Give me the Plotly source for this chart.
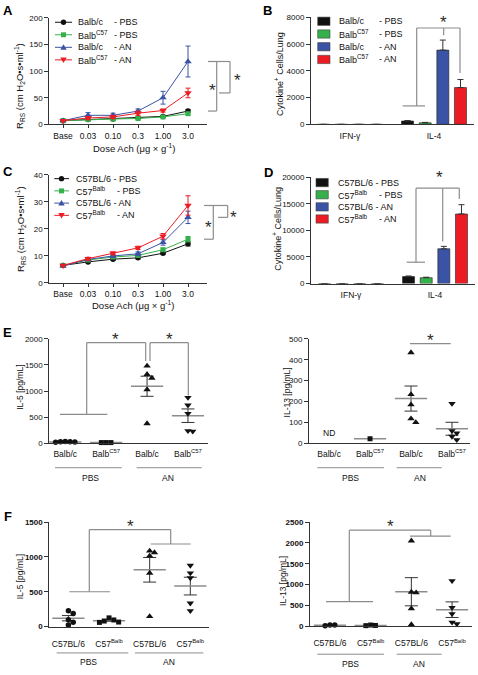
import numpy as np
import plotly.graph_objects as go

W, H = 478, 675
FONT = "Liberation Sans, Arial, Helvetica, sans-serif"
BLACK = "#111111"
GREEN = "#35b04a"
BLUE = "#3b53a4"
RED = "#ec1c24"
GRAY = "#8c8c8c"
AXC = "#333333"

# ---------------- data ----------------
doses = ["Base", "0.03", "0.10", "0.3", "1.00", "3.0"]

A_balbc_pbs = [7, 9, 10, 12, 15, 25]
A_balbc_pbs_err = [1, 1, 1, 1, 1, 3]
A_balbc57_pbs = [7, 9, 10, 11, 14, 20]
A_balbc57_pbs_err = [1, 1, 1, 1, 1, 2]
A_balbc_an = [7, 17, 17, 25, 50, 118]
A_balbc_an_err = [1, 5, 4, 4, 12, 29]
A_balbc57_an = [7, 12, 14, 21, 26, 59]
A_balbc57_an_err = [1, 3, 3, 4, 3, 9]

C_b6_pbs = [6.5, 7.8, 8.8, 9.3, 11.0, 14.5]
C_b6_pbs_err = [0.3, 0.3, 0.4, 0.4, 0.5, 0.8]
C_c57balb_pbs = [6.5, 8.5, 9.6, 10.2, 12.3, 16.2]
C_c57balb_pbs_err = [0.3, 0.4, 0.5, 0.5, 0.6, 1.0]
C_b6_an = [6.3, 8.7, 10.0, 10.8, 15.0, 24.3]
C_b6_an_err = [0.3, 0.5, 0.6, 0.7, 1.0, 2.3]
C_c57balb_an = [6.5, 9.0, 11.0, 13.0, 17.3, 28.7]
C_c57balb_an_err = [0.3, 0.5, 0.5, 0.6, 1.0, 3.6]

cytokines = ["IFN-γ", "IL-4"]
B_balbc_pbs = [0, 250]
B_balbc_pbs_err = [0, 40]
B_balbc57_pbs = [0, 120]
B_balbc57_pbs_err = [0, 30]
B_balbc_an = [0, 5550]
B_balbc_an_err = [0, 750]
B_balbc57_an = [0, 2750]
B_balbc57_an_err = [0, 600]

D_b6_pbs = [0, 1300]
D_b6_pbs_err = [0, 120]
D_c57balb_pbs = [0, 1100]
D_c57balb_pbs_err = [0, 90]
D_b6_an = [0, 6550]
D_b6_an_err = [0, 450]
D_c57balb_an = [0, 13100]
D_c57balb_an_err = [0, 1750]

E_groups = ["Balb/c", "Balb<sup>C57</sup>", "Balb/c", "Balb<sup>C57</sup>"]
E5_balbc_pbs = [30, 25, 35, 20, 30]
E5_balbc57_pbs = [15, 15, 15]
E5_balbc_an = [1480, 1320, 1250, 1030, 380]
E5_balbc57_an = [875, 730, 570, 230, 240]

E13_balbc_pbs = []  # ND
E13_balbc57_pbs = [22]
E13_balbc_an = [434, 234, 185, 118, 100]
E13_balbc57_an = [190, 60, 49, 33, 17]

F_groups = ["C57BL/6", "C57<sup>Balb</sup>", "C57BL/6", "C57<sup>Balb</sup>"]
F5_b6_pbs = [226, 189, 99, 61, 24]
F5_c57balb_pbs = [125, 95, 80, 65, 60]
F5_b6_an = [1085, 1061, 1014, 768, 146]
F5_c57balb_an = [877, 768, 698, 335, 226]

F13_b6_pbs = [30, 15, 28]
F13_c57balb_pbs = [15, 20, 30]
F13_b6_an = [2050, 820, 805, 426, 40]
F13_c57balb_an = [1090, 450, 300, 57, 95]


# ---------------- geometry helpers ----------------
def px(x):
    return x / W


def py(y):
    return 1 - y / H


AX = {
    1: dict(x=(49.3, 207.0), xr=(-0.55, 5.76), y=(122.0, 14.0), yr=(0, 200), yt=[0, 50, 100, 150, 200]),
    2: dict(x=(311.0, 474.0), xr=(-0.464, 1.476), y=(122.0, 13.5), yr=(0, 8000), yt=[0, 2000, 4000, 6000, 8000]),
    3: dict(x=(49.3, 207.0), xr=(-0.55, 5.76), y=(282.7, 173.3), yr=(0, 40), yt=[0, 10, 20, 30, 40]),
    4: dict(x=(311.0, 475.0), xr=(-0.476, 1.476), y=(283.3, 175.7), yr=(0, 20000), yt=[0, 5000, 10000, 15000, 20000]),
    5: dict(x=(49.3, 208.0), xr=(-0.39, 3.49), y=(445.3, 339.3), yr=(0, 2000), yt=[0, 500, 1000, 1500, 2000]),
    6: dict(x=(309.0, 470.0), xr=(-0.49, 3.44), y=(445.3, 339.3), yr=(0, 500), yt=[0, 100, 200, 300, 400, 500]),
    7: dict(x=(49.3, 209.0), xr=(-0.47, 3.46), y=(631.0, 525.0), yr=(0, 1500), yt=[0, 500, 1000, 1500]),
    8: dict(x=(310.0, 472.0), xr=(-0.49, 3.49), y=(630.7, 525.0), yr=(0, 2500), yt=[0, 500, 1000, 1500, 2000, 2500]),
}


def ypix(k, v):
    a = AX[k]
    return a["y"][0] + (v - a["yr"][0]) / (a["yr"][1] - a["yr"][0]) * (a["y"][1] - a["y"][0])


def ypp(k):
    a = AX[k]
    return (a["y"][0] - a["y"][1]) / (a["yr"][1] - a["yr"][0])


def xpp(k):
    a = AX[k]
    return (a["x"][1] - a["x"][0]) / (a["xr"][1] - a["xr"][0])


def xy(k):
    return ("x" if k == 1 else f"x{k}"), ("y" if k == 1 else f"y{k}")


shapes = []
annotations = []


def line(x0, y0, x1, y1, color=GRAY, width=1.2):
    shapes.append(dict(type="line", xref="paper", yref="paper", x0=px(x0), y0=py(y0), x1=px(x1), y1=py(y1),
                       line=dict(color=color, width=width)))


def text(x, y, s, size=8.5, angle=0, bold=False, xanchor="center", yanchor="middle", color="#111111"):
    annotations.append(dict(x=px(x), y=py(y), xref="paper", yref="paper", text=s, showarrow=False,
                            font=dict(family=FONT, size=size, color=color, weight="bold" if bold else "normal"),
                            textangle=angle, xanchor=xanchor, yanchor=yanchor))


def star(x, y):
    text(x, y + 4.5, "*", size=17, color="#2a2a2a")


def key_marker(cx, cy, symbol, color):
    if symbol == "circle":
        r = 2.7
        shapes.append(dict(type="circle", xref="paper", yref="paper", x0=px(cx - r), x1=px(cx + r),
                           y0=py(cy + r), y1=py(cy - r), fillcolor=color, line=dict(width=0)))
    elif symbol == "square":
        r = 2.5
        shapes.append(dict(type="rect", xref="paper", yref="paper", x0=px(cx - r), x1=px(cx + r),
                           y0=py(cy + r), y1=py(cy - r), fillcolor=color, line=dict(width=0)))
    elif symbol == "triangle-up":
        p = f"M{px(cx-3.2)},{py(cy+2.5)} L{px(cx+3.2)},{py(cy+2.5)} L{px(cx)},{py(cy-3.1)} Z"
        shapes.append(dict(type="path", xref="paper", yref="paper", path=p, fillcolor=color, line=dict(width=0)))
    else:
        p = f"M{px(cx-3.2)},{py(cy-2.5)} L{px(cx+3.2)},{py(cy-2.5)} L{px(cx)},{py(cy+3.1)} Z"
        shapes.append(dict(type="path", xref="paper", yref="paper", path=p, fillcolor=color, line=dict(width=0)))


fig = go.Figure()


# ---------------- panels A and C: dose response ----------------
def add_line(k, vals, errs, color, symbol, size):
    xa, ya = xy(k)
    fig.add_trace(go.Scatter(
        x=list(range(len(doses))), y=vals, xaxis=xa, yaxis=ya, mode="lines+markers",
        line=dict(color=color, width=1), marker=dict(symbol=symbol, size=size, color=color),
        error_y=dict(type="data", array=errs, color=color, thickness=1, width=2.5),
        cliponaxis=False, showlegend=False))


add_line(1, A_balbc_pbs, A_balbc_pbs_err, BLACK, "circle", 5.5)
add_line(1, A_balbc57_pbs, A_balbc57_pbs_err, GREEN, "square", 5)
add_line(1, A_balbc_an, A_balbc_an_err, BLUE, "triangle-up", 6.5)
add_line(1, A_balbc57_an, A_balbc57_an_err, RED, "triangle-down", 6.5)

add_line(3, C_b6_pbs, C_b6_pbs_err, BLACK, "circle", 5.5)
add_line(3, C_c57balb_pbs, C_c57balb_pbs_err, GREEN, "square", 5)
add_line(3, C_b6_an, C_b6_an_err, BLUE, "triangle-up", 6.5)
add_line(3, C_c57balb_an, C_c57balb_an_err, RED, "triangle-down", 6.5)


# ---------------- panels B and D: bars ----------------
def add_bar(k, vals, errs, color):
    xa, ya = xy(k)
    fig.add_trace(go.Bar(
        x=list(range(len(cytokines))), y=vals, xaxis=xa, yaxis=ya,
        marker=dict(color=color, line=dict(color="#222222", width=0.6)),
        error_y=dict(type="data", array=errs, arrayminus=[0] * len(errs), symmetric=False,
                     color="#333333", thickness=1, width=3),
        showlegend=False))


add_bar(2, B_balbc_pbs, B_balbc_pbs_err, BLACK)
add_bar(2, B_balbc57_pbs, B_balbc57_pbs_err, GREEN)
add_bar(2, B_balbc_an, B_balbc_an_err, BLUE)
add_bar(2, B_balbc57_an, B_balbc57_an_err, RED)

add_bar(4, D_b6_pbs, D_b6_pbs_err, BLACK)
add_bar(4, D_c57balb_pbs, D_c57balb_pbs_err, GREEN)
add_bar(4, D_b6_an, D_b6_an_err, BLUE)
add_bar(4, D_c57balb_an, D_c57balb_an_err, RED)


# ---------------- panels E and F: dot plots ----------------
def swarm(vals, k, d=4.8):
    yp, xp = ypp(k), xpp(k)
    offs = [0.0] * len(vals)
    placed = []
    for i in sorted(range(len(vals)), key=lambda j: -vals[j]):
        yv = vals[i] * yp
        kk = 0
        while True:
            m = (kk + 1) // 2
            cand = 0.0 if kk == 0 else (m * d / 2 if kk % 2 == 1 else -m * d / 2)
            if all((cand - a) ** 2 + (yv - b) ** 2 >= (d * 0.98) ** 2 for a, b in placed):
                break
            kk += 1
        placed.append((cand, yv))
        offs[i] = cand / xp
    return offs


def add_dots(k, cat, vals, symbol, size):
    if len(vals) == 0:
        return
    xa, ya = xy(k)
    arr = np.array(vals, dtype=float)
    m = arr.mean()
    s = arr.std(ddof=1) / np.sqrt(len(arr)) if len(arr) > 1 else 0.0
    fig.add_trace(go.Scatter(
        x=[cat], y=[m], xaxis=xa, yaxis=ya, mode="markers",
        marker=dict(symbol="line-ew", size=23, color=GRAY, line=dict(color=GRAY, width=1.5)),
        error_y=dict(type="data", array=[s], color="#333333", thickness=1, width=6.5, visible=len(arr) > 1),
        cliponaxis=False, showlegend=False))
    offs = swarm(vals, k)
    fig.add_trace(go.Scatter(
        x=[cat + o for o in offs], y=vals, xaxis=xa, yaxis=ya, mode="markers",
        marker=dict(symbol=symbol, size=size, color="#111111"), cliponaxis=False, showlegend=False))


add_dots(5, 0, E5_balbc_pbs, "circle", 5.5)
add_dots(5, 1, E5_balbc57_pbs, "square", 5)
add_dots(5, 2, E5_balbc_an, "triangle-up", 6.5)
add_dots(5, 3, E5_balbc57_an, "triangle-down", 6.5)

add_dots(6, 0, E13_balbc_pbs, "circle", 5.5)
add_dots(6, 1, E13_balbc57_pbs, "square", 5)
add_dots(6, 2, E13_balbc_an, "triangle-up", 6.5)
add_dots(6, 3, E13_balbc57_an, "triangle-down", 6.5)

add_dots(7, 0, F5_b6_pbs, "circle", 5.5)
add_dots(7, 1, F5_c57balb_pbs, "square", 5)
add_dots(7, 2, F5_b6_an, "triangle-up", 6.5)
add_dots(7, 3, F5_c57balb_an, "triangle-down", 6.5)

add_dots(8, 0, F13_b6_pbs, "circle", 5.5)
add_dots(8, 1, F13_c57balb_pbs, "square", 5)
add_dots(8, 2, F13_b6_an, "triangle-up", 6.5)
add_dots(8, 3, F13_c57balb_an, "triangle-down", 6.5)

# ---------------- axes ----------------
layout = dict(width=W, height=H, margin=dict(l=0, r=0, t=0, b=0), paper_bgcolor="white",
              plot_bgcolor="white", showlegend=False, barmode="group", bargap=0.16, bargroupgap=0.32)

CLEAR = "rgba(0,0,0,0)"
xticks = {
    1: (list(range(6)), doses, AXC, 3),
    3: (list(range(6)), doses, AXC, 3),
    2: ([0, 1], cytokines, CLEAR, 3),
    4: ([0, 1], cytokines, CLEAR, 3),
    5: ([0, 1, 2, 3], E_groups, CLEAR, 2),
    6: ([0, 1, 2, 3], E_groups, CLEAR, 2),
    7: ([0, 1, 2, 3], F_groups, CLEAR, 9),
    8: ([0, 1, 2, 3], F_groups, CLEAR, 9),
}

for k, a in AX.items():
    xn = "xaxis" if k == 1 else f"xaxis{k}"
    yn = "yaxis" if k == 1 else f"yaxis{k}"
    xa, ya = xy(k)
    tv, tt, tc, tl = xticks[k]
    layout[xn] = dict(domain=[px(a["x"][0]), px(a["x"][1])], range=list(a["xr"]), anchor=ya,
                      showline=True, linecolor=AXC, linewidth=1, showgrid=False, zeroline=False,
                      tickmode="array", tickvals=tv, ticktext=tt, ticks="outside", tickcolor=tc, ticklen=tl,
                      tickwidth=1, tickfont=dict(family=FONT, size=8.5, color="#111111"), fixedrange=True)
    bold = k in (7, 8)
    layout[yn] = dict(domain=[py(a["y"][0]), py(a["y"][1])], range=list(a["yr"]), anchor=xa,
                      showline=True, linecolor=AXC, linewidth=1, showgrid=False, zeroline=False,
                      tickmode="array", tickvals=a["yt"], ticktext=[str(v) for v in a["yt"]],
                      ticks="outside", ticklen=4, tickwidth=1, tickcolor=AXC,
                      tickfont=dict(family=FONT, size=8, color="#111111", weight="bold" if bold else "normal"),
                      fixedrange=True)

# ---------------- panel letters ----------------
for letter, (x, y) in {"A": (8, 7), "B": (267, 7), "C": (8, 169.5), "D": (268.5, 171),
                       "E": (7.5, 333), "F": (7.5, 519)}.items():
    text(x, y, letter, size=13, bold=True, color="#000000")

# ---------------- axis titles ----------------
RRS = "R<sub>RS</sub> (cm H<sub>2</sub>O•s•ml<sup>-1</sup>)"
text(20, 83, RRS, size=9.5, angle=-90)
text(21, 228, RRS, size=9.5, angle=-90)
text(133.5, 146, "Dose Ach (μg × g<sup>-1</sup>)", size=9.5)
text(132.5, 305, "Dose Ach (μg × g<sup>-1</sup>)", size=9.5)
text(279, 71, "Cytokine<sup>+</sup> Cells/Lung", size=9, angle=-90)
text(277.3, 227.5, "Cytokine<sup>+</sup> Cells/Lung", size=9, angle=-90)
text(20, 389, "IL-5 [pg/mL]", size=8.5, angle=-90)
text(286.7, 394, "IL-13 [pg/mL]", size=8.5, angle=-90)
text(20, 581, "IL-5 [pg/mL]", size=8.5, angle=-90)
text(282.7, 585, "IL-13 [pg/mL]", size=8.5, angle=-90)
text(329.3, 434.3, "ND", size=8.5)

# ---------------- group underlines ----------------
for (x0, x1, lab, lx, ly, yl) in [
    (55, 121.7, "PBS", 90, 480, 470), (136.7, 201.7, "AN", 168.3, 480, 470),
    (317.3, 384, "PBS", 350, 480, 470), (396.7, 441.7, "AN", 420, 480, 470),
    (56.7, 128.3, "PBS", 88.3, 667.3, 657.7), (135, 203.3, "AN", 169.3, 667.3, 657.7),
    (317.3, 384, "PBS", 350, 668.5, 659), (396.7, 441.7, "AN", 419.3, 668.5, 659),
]:
    line(x0, yl, x1, yl, color=GRAY, width=1)
    text(lx, ly, lab, size=8.5)

# ---------------- legends ----------------
LEG = 9
rowsA = [("Balb/c", "- PBS", BLACK, "circle"), ("Balb<sup>C57</sup>", "- PBS", GREEN, "square"),
         ("Balb/c", "- AN", BLUE, "triangle-up"), ("Balb<sup>C57</sup>", "- AN", RED, "triangle-down")]
for i, (lab, suf, col, sym) in enumerate(rowsA):
    y = 18.5 + i * 12.7
    line(55, y, 72, y, color=col, width=1)
    key_marker(63.5, y, sym, col)
    text(76, y, lab, size=LEG, xanchor="left")
    text(112, y, suf, size=LEG, xanchor="left")

rowsC = [("C57BL/6 - PBS", "", BLACK, "circle"), ("C57<sup>Balb</sup>", "- PBS", GREEN, "square"),
         ("C57BL/6 - AN", "", BLUE, "triangle-up"), ("C57<sup>Balb</sup>", "- AN", RED, "triangle-down")]
for i, (lab, suf, col, sym) in enumerate(rowsC):
    y = 177 + i * 12.4
    line(54.3, y, 69, y, color=col, width=1)
    key_marker(61.5, y, sym, col)
    text(74, y, lab, size=LEG, xanchor="left")
    if suf:
        text(115, y, suf, size=LEG, xanchor="left")

rowsB = [("Balb/c", "- PBS", BLACK), ("Balb<sup>C57</sup>", "- PBS", GREEN),
         ("Balb/c", "- AN", BLUE), ("Balb<sup>C57</sup>", "- AN", RED)]
for i, (lab, suf, col) in enumerate(rowsB):
    y = 17.5 + i * 12.9
    shapes.append(dict(type="rect", xref="paper", yref="paper", x0=px(317.7), x1=px(330), y0=py(y + 4.2),
                       y1=py(y - 4.2), fillcolor=col, line=dict(color="#444444", width=0.6)))
    text(336.7, y, lab, size=LEG, xanchor="left")
    text(377.3, y, suf, size=LEG, xanchor="left")

rowsD = [("C57BL/6 - PBS", "", BLACK), ("C57<sup>Balb</sup>", "- PBS", GREEN),
         ("C57BL/6 - AN", "", BLUE), ("C57<sup>Balb</sup>", "- AN", RED)]
for i, (lab, suf, col) in enumerate(rowsD):
    y = 181 + i * 12.3
    shapes.append(dict(type="rect", xref="paper", yref="paper", x0=px(316), x1=px(328.3), y0=py(y + 4.2),
                       y1=py(y - 4.2), fillcolor=col, line=dict(color="#444444", width=0.6)))
    text(336, y, lab, size=LEG, xanchor="left")
    if suf:
        text(376.7, y, suf, size=LEG, xanchor="left")

# ---------------- significance brackets ----------------
# A
yt = ypix(1, A_balbc_an[-1])
yr_ = ypix(1, A_balbc57_an[-1])
yb = ypix(1, A_balbc_pbs[-1])
line(208, yt, 230, yt)
line(230, yt, 230, yr_)
line(219, yr_, 230, yr_)
line(216.7, yt, 216.7, yb)
line(208, yb, 216.7, yb)
star(237, 73)
star(212, 83)

# C
yt = ypix(3, C_c57balb_an[-1])
yb6 = ypix(3, C_b6_an[-1])
yg = ypix(3, C_c57balb_pbs[-1])
line(204, yt, 227.7, yt)
line(227.7, yt, 227.7, yb6)
line(218, yb6, 227.7, yb6)
line(213.3, yt, 213.3, yg)
line(204, yg, 213.3, yg)
star(233, 211.7)
star(208.3, 221.7)

# B
line(416.7, 24.3, 460, 24.3)
line(416.7, 24.3, 416.7, 103.3)
line(402.7, 103.3, 425, 103.3)
line(443.7, 24.3, 443.7, 31.7)
line(460, 24.3, 460, 70)
star(443, 14)

# D
line(416, 186.7, 459.3, 186.7)
line(416, 186.7, 416, 261.7)
line(406.7, 261.7, 425, 261.7)
line(442.7, 186.7, 442.7, 240.7)
line(459.3, 186.7, 459.3, 197.7)
star(439.3, 171.7)

# E left
line(86.7, 343.3, 145.7, 343.3)
line(86.7, 343.3, 86.7, 416)
line(60, 416, 107.3, 416)
line(145.7, 343.3, 145.7, 361.7)
line(150, 343.3, 188.3, 343.3)
line(150, 343.3, 150, 361.7)
line(188.3, 343.3, 188.3, 396.7)
star(115.7, 336)
star(169, 336)

# E right
line(410, 344.3, 450.7, 344.3)
star(430.5, 336.7)

# F left
line(89.3, 532.7, 170.7, 532.7)
line(89.3, 532.7, 89.3, 595.7)
line(69.3, 595.7, 110, 595.7)
line(170.7, 532.7, 170.7, 547.3)
line(150.7, 547.3, 190.7, 547.3)
star(130, 525)

# F right
line(349.3, 533.3, 430.7, 533.3)
line(349.3, 533.3, 349.3, 605.7)
line(326, 605.7, 373, 605.7)
line(430.7, 533.3, 430.7, 539.3)
line(410, 539.3, 450.7, 539.3)
star(390, 525)

layout["shapes"] = shapes
layout["annotations"] = annotations
fig.update_layout(**layout)
fig.write_html("out.html", config={"displayModeBar": False, "staticPlot": True},
               post_script="document.body.style.margin='0px';document.body.style.padding='0px';")
